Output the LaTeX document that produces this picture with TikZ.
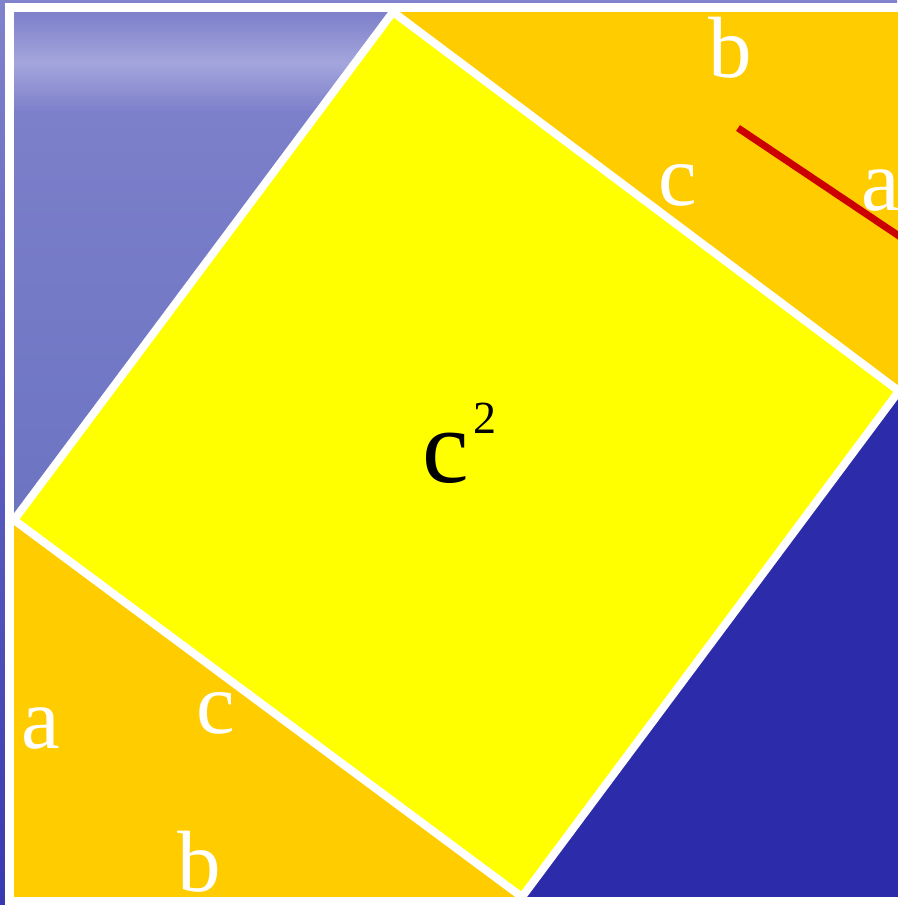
\documentclass[tikz,border=0pt]{standalone}
\usepackage{fontspec}
\setmainfont{Liberation Serif}
\definecolor{lav}{RGB}{128,130,204}
\definecolor{lavlight}{RGB}{180,182,228}
\definecolor{lavlow}{RGB}{108,116,194}
\definecolor{deepblue}{RGB}{44,44,170}
\definecolor{orangey}{RGB}{255,204,0}
\definecolor{yel}{RGB}{255,255,0}
\definecolor{redline}{RGB}{204,0,0}
\tikzset{
  edge/.style={draw=white, line width=8pt, line join=miter},
  lbl/.style={text=white, inner sep=0pt, anchor=base, font=\fontsize{87}{87}\selectfont},
}
\begin{document}
\begin{tikzpicture}[x=1pt,y=-1pt]
\useasboundingbox (0,0) rectangle (897,905);
% background outside the frame
\shade[top color=lav, bottom color=deepblue!85!lav] (0,0) rectangle (897,905);
% corner points
\coordinate (TL) at (14,12);
\coordinate (TR) at (899,12);
\coordinate (BR) at (899,897);
\coordinate (BL) at (14,897);
\coordinate (P) at (393,12);
\coordinate (Q) at (899,391);
\coordinate (R) at (522,897);
\coordinate (S) at (14,520);
% top-left sky triangle
\begin{scope}
\clip (TL) -- (P) -- (S) -- cycle;
\shade[top color=lav, bottom color=lavlow] (0,12) rectangle (400,520);
\shade[top color=lav, bottom color=lav, middle color=lavlight, opacity=0.7] (0,15) rectangle (400,110);
\end{scope}
% bottom-right sea triangle
\fill[deepblue] (Q) -- (BR) -- (R) -- cycle;
% orange triangles
\fill[orangey] (S) -- (BL) -- (R) -- cycle;
\fill[orangey] (P) -- (TR) -- (Q) -- cycle;
% yellow square
\fill[yel] (P) -- (Q) -- (R) -- (S) -- cycle;
% white edges
\draw[edge] (P) -- (Q) -- (R) -- (S) -- cycle;
\draw[white, line width=9pt] (9.5,7.5) rectangle (903.5,901.5);
% red line
\coordinate (red1) at (738,128);
\coordinate (red2) at (905,240);
\draw[redline, line width=7pt] (red1) -- (red2);
% labels
\node[lbl] (lb1) at (730,77) {b};
\node[lbl] (lc1) at (678,205) {c};
\node[lbl] (la1) at (881,210) {a};
\node[lbl] (la2) at (41,748) {a};
\node[lbl] (lc2) at (216,733) {c};
\node[lbl] (lb2) at (199,891) {b};
\node[inner sep=0pt, anchor=base west, text=black, font=\fontsize{105}{105}\selectfont] (csq) at (422,482) {c\kern5pt\raisebox{49pt}{\fontsize{46}{46}\selectfont 2}};
\end{tikzpicture}
\end{document}
